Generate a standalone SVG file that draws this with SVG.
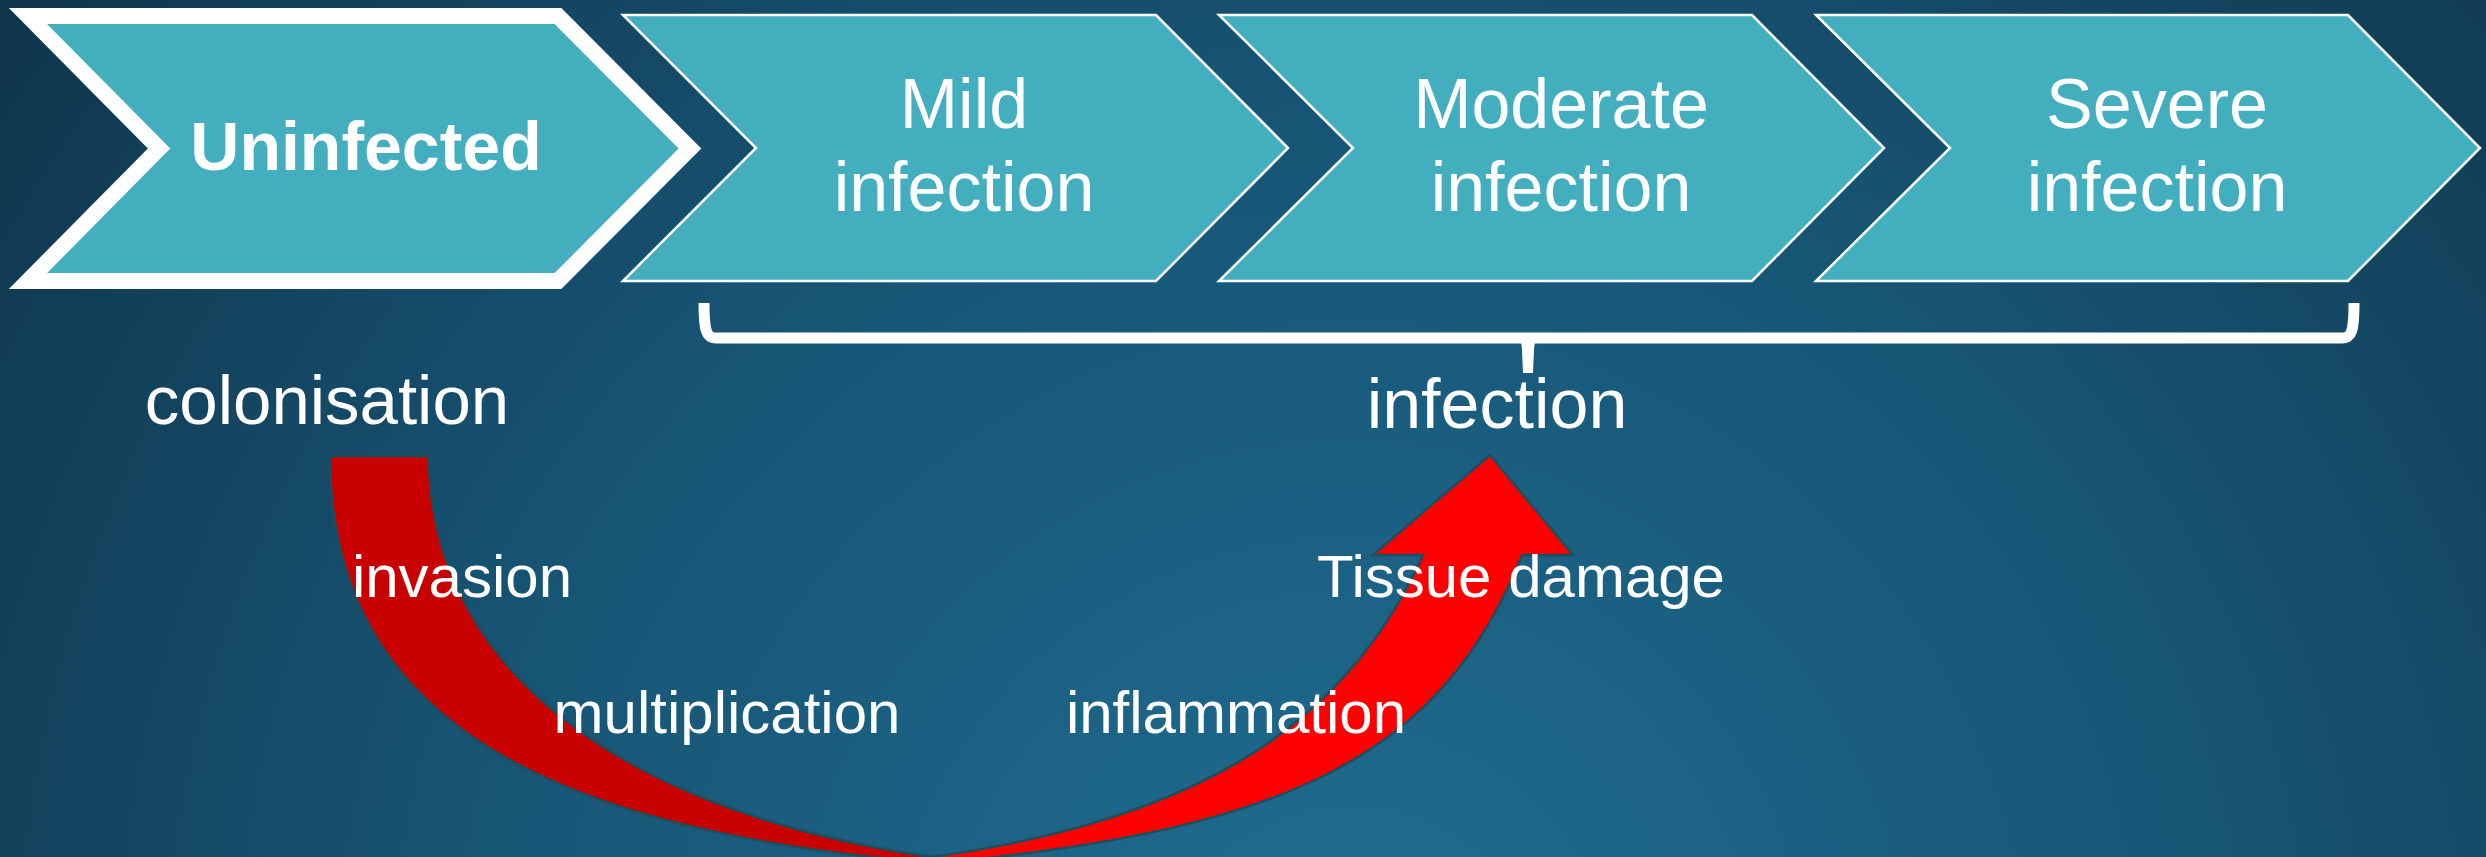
<svg xmlns="http://www.w3.org/2000/svg" width="2486" height="857" viewBox="0 0 2486 857">
  <defs>
    <radialGradient id="bg" gradientUnits="userSpaceOnUse" cx="1350" cy="1000" r="1800">
      <stop offset="0" stop-color="#206e92"/>
      <stop offset="0.5" stop-color="#175474"/>
      <stop offset="1" stop-color="#0e3044"/>
    </radialGradient>
  </defs>
  <style>
    .chev { fill: #42aebe; stroke: #ffffff; stroke-width: 2.5; stroke-linejoin: miter; }
    .chev1 { fill: #42aebe; stroke: #ffffff; stroke-width: 16; stroke-linejoin: miter; }
    .t { font-family: "Liberation Sans", Arial, sans-serif; fill: #ffffff; }
    .big { font-size: 70px; text-anchor: middle; }
    .lbl { font-size: 60px; text-anchor: middle; }
    .brace { fill: none; stroke: #ffffff; stroke-width: 11; }
    .tick { fill: #ffffff; }
    .back { fill: #c80000; stroke: #1c4f5e; stroke-width: 2.5; }
    .front { fill: #ff0000; stroke: #1c4f5e; stroke-width: 2.5; stroke-linejoin: miter; }
  </style>
  <rect x="0" y="0" width="2486" height="857" fill="url(#bg)"/>

  <g id="node-uninfected">
    <path class="chev1" d="M 28,16 L 558,16 L 690,148.5 L 558,281 L 28,281 L 159,148.5 Z"/>
    <text class="t" x="366" y="170" font-size="68" font-weight="bold" text-anchor="middle">Uninfected</text>
  </g>
  <g id="node-mild">
    <path class="chev" d="M 623,15 L 1156,15 L 1288,148 L 1156,281 L 623,281 L 756,148 Z"/>
    <text class="t big" x="964" y="128">Mild</text>
    <text class="t big" x="964" y="211">infection</text>
  </g>
  <g id="node-moderate">
    <path class="chev" d="M 1219,15 L 1752,15 L 1884,148 L 1752,281 L 1219,281 L 1353,148 Z"/>
    <text class="t big" x="1561" y="128">Moderate</text>
    <text class="t big" x="1561" y="211">infection</text>
  </g>
  <g id="node-severe">
    <path class="chev" d="M 1816,15 L 2348,15 L 2480,148 L 2348,281 L 1816,281 L 1950,148 Z"/>
    <text class="t big" x="2157" y="128">Severe</text>
    <text class="t big" x="2157" y="211">infection</text>
  </g>

  <g id="label-colonisation">
    <text class="t" x="327" y="424" font-size="69" text-anchor="middle">colonisation</text>
  </g>
  <g id="label-infection">
    <text class="t" x="1497" y="428" font-size="70" text-anchor="middle">infection</text>
  </g>

  <g id="connectors">
    <path class="brace" d="M 704,303 C 704,330 706,338 716,338 L 2342,338 C 2352,338 2354,330 2354,303"/>
    <path class="tick" d="M 1518,338 Q 1522,342 1522,350 L 1523,373 L 1533,373 L 1534,350 Q 1534,342 1538,338 Z"/>
    <path class="back" d="M 330,456 L 429,456 C 429,636 572,803 932,857 L 900,860 C 540,824 330,716 330,456 Z"/>
    <path class="front" d="M 932,857 C 1180,822 1341,737 1423,555 L 1373,555 L 1490,455 L 1573,555 L 1522,555 C 1441,760 1280,829 950,862 Z"/>
  </g>

  <g id="labels">
    <text class="t lbl" x="462" y="597">invasion</text>
    <text class="t lbl" x="727" y="733">multiplication</text>
    <text class="t lbl" x="1236" y="733">inflammation</text>
    <text class="t lbl" x="1521" y="597">Tissue damage</text>
  </g>
</svg>
